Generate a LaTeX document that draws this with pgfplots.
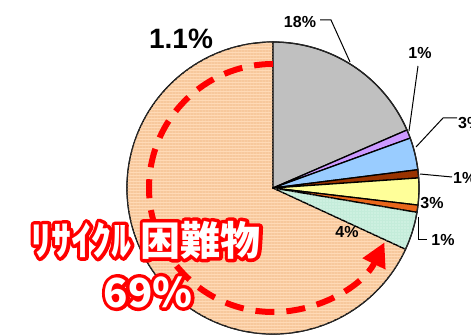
\documentclass[border=0pt]{standalone}
\usepackage{pgfplots}
\pgfplotsset{compat=1.18}
\usepackage{fontspec}
\setmainfont{Liberation Sans}
\newfontfamily\cjk{Noto Sans CJK JP}
\usetikzlibrary{arrows.meta,patterns.meta}
\definecolor{cGray}{HTML}{C0C0C0}
\definecolor{cPurple}{HTML}{CC99FF}
\definecolor{cBlue}{HTML}{99CCFF}
\definecolor{cBrown}{HTML}{993300}
\definecolor{cYellow}{HTML}{FFFF99}
\definecolor{cOrange}{HTML}{E8661A}
\definecolor{cGreen}{HTML}{C4ECDA}
\definecolor{cGreenDot}{HTML}{EEFFF6}
\definecolor{cPeach}{HTML}{FFDAB6}
\definecolor{cPeachLine}{HTML}{F7C89C}
% slice shares (percent), clockwise from 12 o'clock
\def\pGray{18.5}\def\pPurple{0.95}\def\pBlue{3.55}\def\pBrown{0.9}
\def\pYellow{2.97}\def\pOrange{0.8}\def\pGreen{4.22}\def\pPeach{68.11}
\pgfmathsetmacro\aA{90-3.6*\pGray}
\pgfmathsetmacro\aB{\aA-3.6*\pPurple}
\pgfmathsetmacro\aC{\aB-3.6*\pBlue}
\pgfmathsetmacro\aD{\aC-3.6*\pBrown}
\pgfmathsetmacro\aE{\aD-3.6*\pYellow}
\pgfmathsetmacro\aF{\aE-3.6*\pOrange}
\pgfmathsetmacro\aG{\aF-3.6*\pGreen}
\pgfmathsetmacro\aH{\aG-3.6*\pPeach}
\newcommand\pieslice[3]{%
  \path[fill=#3,draw=black,line width=1.3bp,line join=round]
    (axis cs:273,148) -- ++(#1:146bp) arc[start angle=#1,end angle=#2,radius=146bp] -- cycle;}
\newcommand\strokedtext[2]{\special{pdf:literal direct 2 Tr #1 w 1 0 0 RG 1 j}#2\special{pdf:literal direct 0 Tr}}
\begin{document}
\begin{tikzpicture}
\useasboundingbox (0,0) rectangle (471bp,336bp);
\begin{axis}[x=1bp,y=1bp,xmin=0,xmax=471,ymin=0,ymax=336,hide axis,clip=false,
  anchor=origin, at={(0,0)}]
% peach slice with stripes
\pieslice{\aG}{\aH}{cPeach}
\path[pattern={Lines[angle=0,distance=3bp,line width=1.1bp]},pattern color=cPeachLine]
  (axis cs:273,148) -- ++(\aG:146bp) arc[start angle=\aG,end angle=\aH,radius=146bp] -- cycle;
\pieslice{90}{\aA}{cGray}
\pieslice{\aA}{\aB}{cPurple}
\pieslice{\aB}{\aC}{cBlue}
\pieslice{\aC}{\aD}{cBrown}
\pieslice{\aD}{\aE}{cYellow}
\pieslice{\aE}{\aF}{cOrange}
\pieslice{\aF}{\aG}{cGreen}
\path[pattern={Dots[distance=3bp,radius=0.7bp]},pattern color=cGreenDot]
  (axis cs:273,148) -- ++(\aF:146bp) arc[start angle=\aF,end angle=\aG,radius=146bp] -- cycle;
\draw[black!85,line width=1.1bp] (axis cs:273,148) circle[radius=146bp];
% red dashed arrow
\draw[red,line width=6bp,dash pattern=on 19bp off 12bp,-{Triangle[length=24bp,width=24bp]}]
  (axis cs:273,148) ++(90:124bp) arc[start angle=90,end angle=334,radius=124bp];
% leader lines
\draw[black,line width=1bp] (axis cs:320,316) -- (axis cs:331,316) -- (axis cs:350,274);
\draw[black,line width=1bp] (axis cs:418,270) -- (axis cs:409,205);
\draw[black,line width=1bp] (axis cs:457,218) -- (axis cs:443,218) -- (axis cs:416,189);
\draw[black,line width=1bp] (axis cs:452,159) -- (axis cs:420,162);
\draw[black,line width=1bp] (axis cs:418,119) -- (axis cs:418,96) -- (axis cs:427,96);
% percentage labels
\node[font=\fontsize{16bp}{18bp}\selectfont\bfseries] at (axis cs:300,314) {18\%};
\node[font=\fontsize{16bp}{18bp}\selectfont\bfseries] at (axis cs:420,283) {1\%};
\node[font=\fontsize{16bp}{18bp}\selectfont\bfseries,anchor=west,inner sep=0pt] at (axis cs:458,213) {3\%};
\node[font=\fontsize{16bp}{18bp}\selectfont\bfseries,anchor=west,inner sep=0pt] at (axis cs:453,158) {1\%};
\node[font=\fontsize{16bp}{18bp}\selectfont\bfseries] at (axis cs:432,133) {3\%};
\node[font=\fontsize{16bp}{18bp}\selectfont\bfseries] at (axis cs:443,96) {1\%};
\node[font=\fontsize{16bp}{18bp}\selectfont\bfseries] at (axis cs:347,104) {4\%};
\node[font=\fontsize{28bp}{30bp}\selectfont\bfseries] at (axis cs:181,297) {1.1\%};
\end{axis}
% glowing caption: red stroked copy under white text
\node[text=red,font=\cjk\fontsize{40bp}{44bp}\selectfont\bfseries] at (146bp,96bp) {\strokedtext{7}{ﾘｻｲｸﾙ 困難物}};
\node[text=red,font=\cjk\fontsize{40bp}{44bp}\selectfont\bfseries] at (148bp,44bp) {\strokedtext{7}{69％}};
\node[text=white,font=\cjk\fontsize{40bp}{44bp}\selectfont\bfseries] at (146bp,96bp) {ﾘｻｲｸﾙ 困難物};
\node[text=white,font=\cjk\fontsize{40bp}{44bp}\selectfont\bfseries] at (148bp,44bp) {69％};
\end{tikzpicture}
\end{document}
